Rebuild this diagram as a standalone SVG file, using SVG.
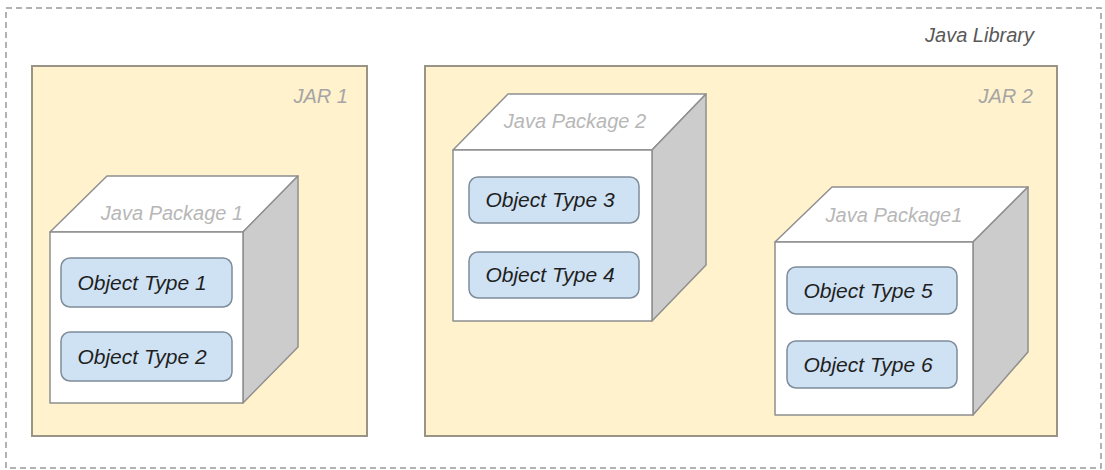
<svg xmlns="http://www.w3.org/2000/svg" width="1105" height="470" viewBox="0 0 1105 470">
<style>
.lib{fill:#fff;stroke:#999;stroke-width:1.5;stroke-dasharray:6 4}
.jar{fill:#fff2cc;stroke:#9a9486;stroke-width:2}
.face{fill:#fff;stroke:#8f8f8f;stroke-width:1.5;stroke-linejoin:round}
.side{fill:#cccccc;stroke:#8f8f8f;stroke-width:1.5;stroke-linejoin:round}
.obj{fill:#cfe2f3;stroke:#7f8c99;stroke-width:1.5}
.t{font-family:"Liberation Sans",Arial,sans-serif;font-style:italic;font-size:20px}
.tobj{fill:#1f1f1f;text-anchor:middle;font-size:21px}
.tpkg{fill:#b7b7b7;text-anchor:middle}
.tjar{fill:#a5a5a5;text-anchor:end}
.tlib{fill:#595959;text-anchor:end}
</style>
<g id="java-library">
<rect class="lib" x="6" y="8" width="1095" height="460"/>
<text class="t tlib" x="1034" y="42">Java Library</text>
</g>
<g id="jar1">
<rect class="jar" x="32" y="66" width="335" height="370"/>
<text class="t tjar" x="348" y="103">JAR 1</text>
</g>
<g id="jar2">
<rect class="jar" x="425" y="66" width="632" height="370"/>
<text class="t tjar" x="1033" y="103">JAR 2</text>
</g>
<g id="package1">
<polygon class="face" points="50,232 107,176 298,176 243,232"/>
<polygon class="side" points="243,232 298,176 298,347 243,403"/>
<rect class="face" x="50" y="232" width="193" height="171"/>
<text class="t tpkg" x="172" y="220">Java Package 1</text>
</g>
<g id="obj1">
<rect class="obj" x="61" y="258" width="171" height="49" rx="9"/>
<text class="t tobj" x="142" y="290">Object Type 1</text>
</g>
<g id="obj2">
<rect class="obj" x="61" y="332" width="171" height="49" rx="9"/>
<text class="t tobj" x="142" y="364">Object Type 2</text>
</g>
<g id="package2">
<polygon class="face" points="453,150 508,94 706,94 652,150"/>
<polygon class="side" points="652,150 706,94 706,265 652,321"/>
<rect class="face" x="453" y="150" width="199" height="171"/>
<text class="t tpkg" x="575" y="128">Java Package 2</text>
</g>
<g id="obj3">
<rect class="obj" x="469" y="177" width="170" height="46" rx="9"/>
<text class="t tobj" x="550" y="207">Object Type 3</text>
</g>
<g id="obj4">
<rect class="obj" x="469" y="252" width="170" height="46" rx="9"/>
<text class="t tobj" x="550" y="282">Object Type 4</text>
</g>
<g id="package3">
<polygon class="face" points="775,242 832,187 1028,187 973,242"/>
<polygon class="side" points="973,242 1028,187 1028,352 973,415"/>
<rect class="face" x="775" y="242" width="198" height="173"/>
<text class="t tpkg" x="894" y="222">Java Package1</text>
</g>
<g id="obj5">
<rect class="obj" x="787" y="267" width="170" height="47" rx="9"/>
<text class="t tobj" x="868" y="298">Object Type 5</text>
</g>
<g id="obj6">
<rect class="obj" x="787" y="341" width="170" height="47" rx="9"/>
<text class="t tobj" x="868" y="372">Object Type 6</text>
</g>
<g id="connectors"/>
</svg>
